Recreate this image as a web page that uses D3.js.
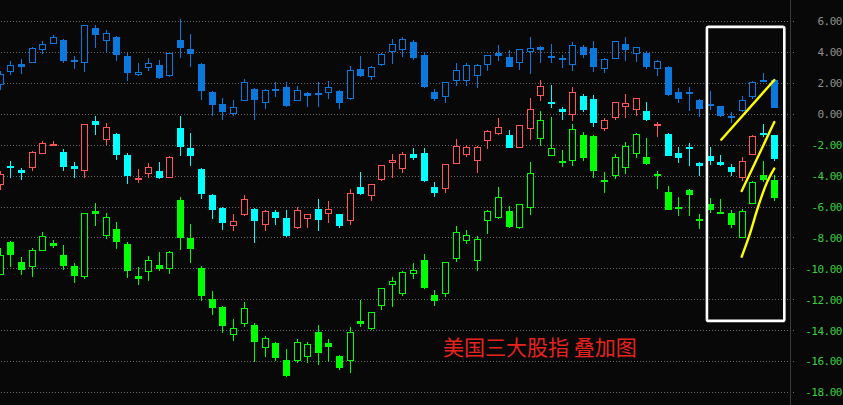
<!DOCTYPE html>
<html><head><meta charset="utf-8">
<script src="https://cdn.jsdelivr.net/npm/d3@7"></script>
<style>html,body{margin:0;padding:0;background:#080808;overflow:hidden}</style>
</head><body><svg id="c" width="843" height="405"></svg>
<script>
// ---- data ----
const tickValues = [6, 4, 2, 0, -2, -4, -6, -8, -10, -12, -14, -16, -18];
const seriesNames = ["指数A", "指数B", "指数C"];
// [open, high, low, close] per trading day
const blueOHLC = [
[1.94,2.76,1.62,2.59],[2.74,3.43,2.59,3.15],[3.23,3.56,2.63,3.06],[3.32,4.31,3.32,4.25],[4.16,4.68,3.96,4.51],
[4.57,5.11,4.57,4.96],[4.79,4.85,3.36,3.49],[3.50,3.75,2.93,3.48],[3.32,5.74,2.74,5.74],[5.56,5.74,4.35,5.17],
[4.74,5.43,4.09,5.22],[4.96,5.00,3.49,3.84],[3.75,3.93,2.20,2.72],[2.54,3.28,2.48,2.72],[3.02,3.60,2.85,3.28],
[3.17,3.49,2.30,2.35],[2.48,3.93,2.43,3.93],[4.79,6.14,3.64,4.29],[4.20,5.17,3.06,3.90],[3.23,3.30,0.97,1.55],
[1.42,1.49,-0.11,0.65],[0.65,1.03,-0.37,0.21],[0.08,0.91,-0.11,0.43],[0.92,2.26,0.87,2.07],[1.62,1.68,-0.37,0.97],
[0.73,1.62,0.34,1.55],[1.61,2.07,1.12,1.59],[1.73,2.07,0.49,0.54],[0.92,1.81,0.87,1.53],[1.34,1.39,0.47,1.23],
[1.35,2.07,0.47,1.33],[1.38,2.13,1.05,1.73],[1.49,1.55,0.34,0.73],[1.05,3.10,0.95,2.83],[2.89,3.75,2.46,2.48],
[2.41,3.10,2.24,3.02],[3.21,3.91,3.15,3.86],[4.03,4.85,3.30,4.51],[4.16,4.96,3.71,4.83],[4.66,4.79,3.56,3.69],
[3.82,4.01,1.75,1.81],[1.42,1.62,0.86,1.03],[1.14,2.05,0.78,2.05],[2.20,3.30,1.88,2.83],[2.20,3.30,1.88,3.15],
[2.48,3.23,1.75,3.15],[3.19,3.80,2.85,3.80],[3.90,4.46,3.45,3.77],[3.67,4.14,3.06,3.10],[3.32,4.18,2.91,4.18],
[4.03,4.98,2.65,4.25],[4.33,4.40,3.38,4.16],[3.74,4.53,3.34,3.72],[3.62,3.77,3.00,3.51],[3.21,4.64,2.85,4.44],
[4.31,4.44,3.64,3.84],[4.25,4.72,2.78,3.06],[2.96,3.62,2.72,3.54],[3.60,4.72,3.60,4.70],[4.51,4.98,3.45,4.22],
[3.96,4.33,3.43,4.31],[3.93,4.06,2.99,3.06],[2.96,3.49,2.48,3.43],[3.02,3.07,1.21,1.29],[1.40,1.64,0.78,1.05],
[1.43,1.73,0.26,1.41],[0.91,0.94,-0.17,0.34],[0.64,1.49,0.32,0.62],[0.50,0.52,-0.17,-0.11],[-0.16,0.11,-0.56,-0.18],
[0.24,1.14,0.15,0.89],[1.14,2.12,0.99,2.05],[2.19,2.65,2.12,2.17],[2.18,2.20,0.41,0.45]];
const midOHLC = [
[-4.57,-3.71,-4.85,-3.88],[-3.35,-3.04,-4.12,-3.37],[-3.62,-3.49,-4.20,-3.75],[-3.47,-2.39,-3.62,-2.48],[-2.57,-1.75,-2.57,-1.90],
[-2.05,-1.75,-2.05,-1.96],[-2.46,-2.26,-3.62,-3.41],[-3.40,-3.10,-4.06,-3.49],[-3.67,-0.67,-4.06,-0.67],[-0.45,-0.13,-1.29,-0.69],
[-1.66,-0.60,-1.94,-0.84],[-1.29,-1.27,-2.91,-2.59],[-2.65,-2.54,-4.51,-3.99],[-4.25,-3.58,-4.44,-4.14],[-3.86,-3.17,-4.12,-3.45],
[-3.69,-3.10,-4.17,-4.12],[-4.06,-2.75,-4.12,-2.78],[-0.91,-0.13,-2.70,-2.07],[-2.20,-1.23,-3.34,-2.65],[-3.56,-3.53,-5.48,-5.11],
[-5.24,-5.21,-6.73,-6.13],[-6.08,-6.05,-7.44,-6.99],[-7.22,-6.47,-7.50,-6.92],[-6.51,-5.24,-6.55,-5.50],[-6.14,-6.11,-8.28,-6.86],
[-7.10,-6.21,-7.50,-6.32],[-6.34,-6.21,-7.10,-6.68],[-6.75,-6.23,-7.89,-7.83],[-7.33,-6.03,-7.36,-6.23],[-6.77,-6.47,-7.35,-6.49],
[-6.16,-5.50,-7.55,-6.84],[-6.42,-5.63,-7.03,-6.16],[-6.49,-6.46,-7.35,-7.22],[-6.88,-4.85,-7.16,-5.13],[-4.74,-3.75,-5.22,-5.15],
[-5.26,-4.53,-5.56,-4.55],[-4.25,-3.30,-4.27,-3.32],[-3.15,-2.59,-4.06,-2.99],[-3.54,-2.48,-3.80,-2.61],[-2.59,-2.20,-2.91,-2.78],
[-2.54,-2.20,-4.33,-4.27],[-4.72,-4.40,-5.35,-5.03],[-4.83,-3.23,-5.03,-3.25],[-3.17,-1.62,-3.21,-2.09],[-2.59,-2.01,-2.76,-2.15],
[-3.02,-2.07,-3.80,-2.13],[-1.73,-1.03,-2.22,-1.10],[-1.27,-0.26,-1.29,-0.86],[-1.36,-1.05,-2.18,-2.13],[-2.12,-0.71,-2.14,-0.73],
[-0.89,1.03,-1.66,0.30],[1.23,2.18,0.91,1.79],[0.79,1.88,0.45,0.77],[0.32,0.45,-0.32,0.15],[-0.02,1.73,-0.39,1.40],
[1.14,1.25,0.15,0.32],[0.97,1.23,-0.82,-0.56],[-0.92,-0.26,-1.08,-0.41],[-0.24,0.78,-0.32,0.76],[0.47,1.29,-0.24,0.69],
[0.28,1.04,-0.06,1.02],[0.19,0.78,-0.40,-0.37],[-0.74,-0.56,-1.42,-0.68],[-1.29,-1.27,-2.68,-2.65],[-2.54,-2.13,-3.10,-2.78],
[-2.12,-1.88,-3.30,-2.24],[-3.20,-3.09,-3.95,-3.30],[-2.72,-2.13,-3.23,-2.98],[-3.10,-2.65,-3.30,-3.28],[-3.43,-3.23,-3.99,-3.73],
[-4.09,-2.78,-4.31,-3.06],[-2.61,-1.38,-2.63,-1.44],[-1.23,-0.65,-1.47,-1.31],[-1.38,-1.36,-3.02,-2.89]];
const greenOHLC = [
[-10.37,-8.67,-10.39,-9.12],[-8.28,-8.21,-9.88,-9.10],[-9.59,-9.25,-10.35,-10.07],[-9.88,-8.71,-10.48,-8.80],[-8.82,-7.68,-8.84,-7.91],
[-8.34,-8.15,-8.62,-8.52],[-9.12,-8.49,-10.07,-9.81],[-9.83,-9.64,-10.91,-10.46],[-10.52,-6.42,-10.65,-6.42],[-6.32,-5.76,-7.18,-6.45],
[-7.87,-6.42,-8.02,-6.68],[-7.44,-6.99,-8.71,-8.26],[-8.41,-8.30,-10.59,-10.14],[-10.51,-9.90,-11.04,-10.64],[-10.20,-9.18,-10.74,-9.44],
[-9.77,-8.93,-10.14,-10.01],[-10.01,-8.91,-10.28,-8.93],[-5.56,-5.39,-8.78,-7.96],[-8.02,-7.11,-9.62,-8.67],[-9.96,-9.83,-12.08,-11.71],
[-11.97,-11.45,-12.98,-12.48],[-12.48,-12.45,-14.15,-13.69],[-14.25,-13.26,-14.62,-13.86],[-13.56,-12.16,-13.76,-12.57],[-13.65,-13.54,-16.02,-14.73],
[-15.12,-14.36,-15.70,-14.51],[-14.81,-14.75,-15.91,-15.76],[-15.91,-15.20,-16.95,-16.88],[-15.96,-14.57,-16.09,-14.77],[-15.70,-14.79,-16.09,-14.90],
[-14.10,-13.65,-16.17,-15.44],[-14.81,-14.57,-16.02,-15.05],[-15.65,-15.59,-16.49,-16.41],[-15.96,-13.78,-16.73,-14.10],[-13.39,-12.03,-13.71,-13.56],
[-13.89,-12.80,-13.91,-12.83],[-12.37,-11.25,-12.66,-11.27],[-11.01,-10.54,-12.46,-10.80],[-11.62,-10.15,-11.71,-10.24],[-10.33,-9.66,-10.65,-10.11],
[-9.44,-9.06,-11.25,-11.19],[-11.71,-11.38,-12.40,-12.08],[-11.62,-9.57,-11.82,-9.59],[-9.36,-7.24,-9.55,-7.65],[-8.19,-7.50,-8.36,-7.85],
[-9.49,-7.91,-10.14,-8.10],[-6.90,-6.25,-7.74,-6.29],[-6.71,-4.72,-6.73,-5.39],[-6.29,-5.95,-7.35,-7.29],[-7.35,-5.82,-7.37,-5.84],
[-6.00,-3.10,-6.51,-3.84],[-1.60,0.17,-1.99,-0.41],[-2.65,-0.19,-2.67,-2.20],[-3.05,-2.33,-3.41,-3.07],[-3.02,-0.65,-3.34,-0.97],
[-1.36,-1.16,-2.96,-2.78],[-1.42,-1.36,-4.06,-3.67],[-4.28,-3.75,-5.04,-4.30],[-3.93,-2.59,-4.18,-2.78],[-3.45,-1.81,-3.86,-2.07],
[-2.54,-1.27,-2.83,-1.29],[-2.78,-1.55,-3.23,-3.21],[-3.87,-3.69,-4.83,-3.89],[-5.04,-4.66,-6.19,-6.14],[-6.00,-5.41,-6.58,-6.04],
[-4.92,-4.90,-6.58,-5.19],[-6.80,-6.51,-7.42,-6.82],[-5.84,-5.45,-6.38,-6.16],[-6.33,-5.50,-6.45,-6.35],[-6.42,-6.21,-7.35,-7.10],
[-7.97,-6.13,-7.99,-6.29],[-5.78,-4.35,-5.80,-4.42],[-3.96,-3.04,-4.35,-4.22],[-4.29,-3.95,-5.61,-5.41]];
const days = d3.range(blueOHLC.length);
// annotations in data units: [day index, value]
const highlightBox = {from: 66.72, to: 74.02, top: 5.62, bottom: -13.4};
const trendLines = [
  [[68.07,-1.68],[73.08,2.18]],
  [[70.0,-5.0],[73.08,-0.54]],
  [[70.0,-9.25],[70.69,-7.94],[71.56,-6.0],[72.36,-4.48],[73.08,-3.54]]
];
const titleText = "美国三大股指 叠加图";

// ---- drawing ----
const W = 843, H = 405, BG = "#080808";
const svg = d3.select("#c");
svg.append("rect").attr("width", W).attr("height", H).attr("fill", BG);

const x = d3.scaleLinear().domain([0, days.length - 1]).range([-0.3, 773.5]);
const y = d3.scaleLinear().domain([-18, 6]).range([392, 21]);

// grid
svg.append("g").attr("shape-rendering", "crispEdges").selectAll("line").data(tickValues).join("line")
  .attr("x1", 1).attr("x2", 794)
  .attr("y1", d => Math.round(y(d)) + 0.5).attr("y2", d => Math.round(y(d)) + 0.5)
  .attr("stroke", "#6a6a6a").attr("stroke-width", 1).attr("stroke-dasharray", "1,2");

// axis separator
svg.append("line").attr("x1", 790.5).attr("x2", 790.5).attr("y1", 0).attr("y2", H)
  .attr("stroke", "#3c3c3c").attr("stroke-width", 1);

// right axis labels
const axis = d3.axisRight(y).tickValues(tickValues)
  .tickFormat(d => d3.format(".2f")(d).replace("−", "-")).tickSize(0).tickPadding(0);
const ag = svg.append("g").attr("transform", "translate(790.5,0)").call(axis);
ag.select(".domain").remove();
ag.selectAll("text")
  .attr("x", 842 - 790.5).attr("dy", "0.35em").attr("text-anchor", "end")
  .attr("fill", d => d < 0 ? "#3ccc3c" : "#8e8e8e")
  .style("font-family", "'DejaVu Sans Mono', 'Liberation Mono', monospace")
  .style("font-size", "11px").style("letter-spacing", "-0.5px");

function drawSeries(data, upColor, downColor) {
  const g = svg.append("g").attr("shape-rendering", "crispEdges");
  const c = g.selectAll("g").data(data).join("g");
  const colorOf = d => d[3] > d[0] ? upColor : downColor;
  c.append("line")
    .attr("x1", (d, i) => Math.round(x(i)) + 0.5).attr("x2", (d, i) => Math.round(x(i)) + 0.5)
    .attr("y1", d => Math.round(y(d[1]))).attr("y2", d => Math.round(y(d[2])) + 1)
    .attr("stroke", colorOf).attr("stroke-width", 1);
  c.each(function(d, i) {
    const sel = d3.select(this);
    const cx = Math.round(x(i));
    const top = Math.round(y(Math.max(d[0], d[3])));
    const bot = Math.round(y(Math.min(d[0], d[3])));
    if (d[3] > d[0]) {
      sel.append("rect").attr("x", cx - 3 + 0.5).attr("y", top + 0.5)
        .attr("width", 6).attr("height", Math.max(1, bot - top))
        .attr("fill", BG).attr("stroke", upColor).attr("stroke-width", 1);
    } else {
      sel.append("rect").attr("x", cx - 3).attr("y", top)
        .attr("width", 7).attr("height", Math.max(2, bot - top + 1))
        .attr("fill", downColor);
    }
  });
}
drawSeries(blueOHLC, "#0a78dc", "#0a78dc");
drawSeries(midOHLC, "#ff5656", "#00ffff");
drawSeries(greenOHLC, "#00ff00", "#00ff00");

// highlight box
svg.append("rect")
  .attr("x", x(highlightBox.from)).attr("y", y(highlightBox.top))
  .attr("width", x(highlightBox.to) - x(highlightBox.from))
  .attr("height", y(highlightBox.bottom) - y(highlightBox.top))
  .attr("rx", 1.5).attr("fill", "none").attr("stroke", "#ffffff").attr("stroke-width", 2.6);

// trend lines
const line = d3.line().x(d => x(d[0])).y(d => y(d[1])).curve(d3.curveCatmullRom);
svg.append("g").selectAll("path").data(trendLines).join("path")
  .attr("d", line).attr("fill", "none").attr("stroke", "#ffff00")
  .attr("stroke-width", 2.4).attr("stroke-linecap", "round");

// title
svg.append("text").attr("x", x(41.82)).attr("y", y(-15.6))
  .attr("fill", "#e8231e").style("font-family", "'Noto Sans CJK SC', sans-serif")
  .style("font-size", "21px").text(titleText);
</script>
</body></html>
